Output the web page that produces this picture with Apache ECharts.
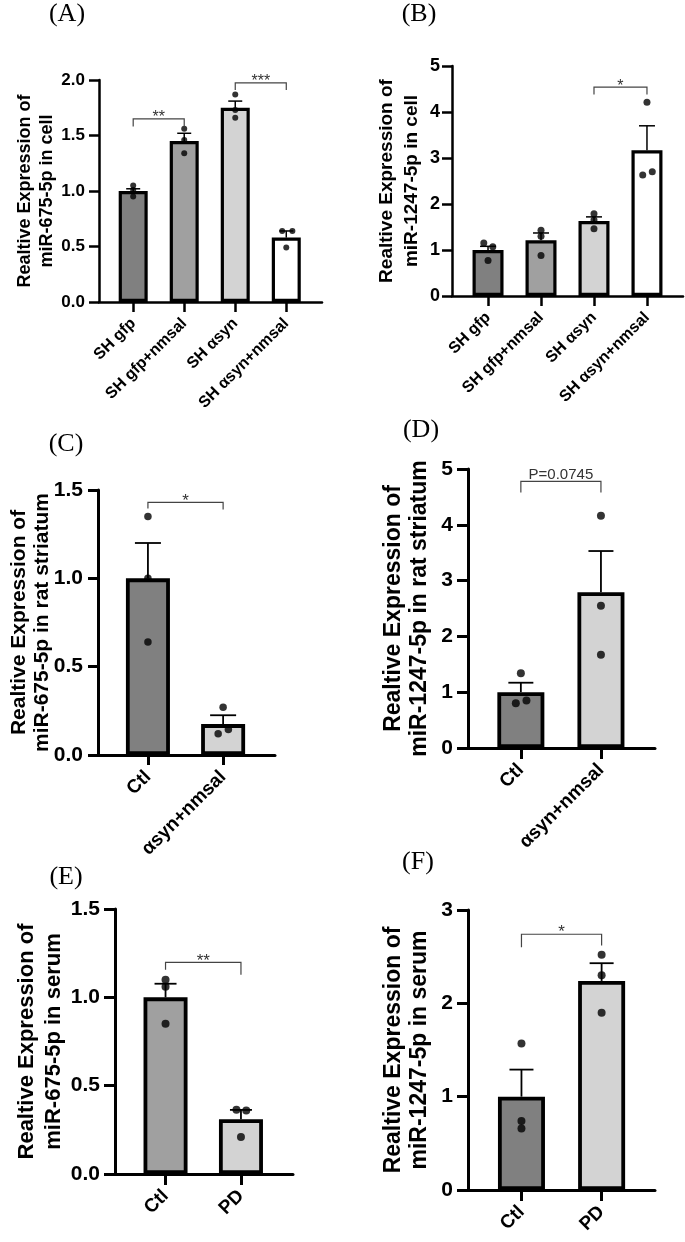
<!DOCTYPE html>
<html><head><meta charset="utf-8">
<script src="https://cdn.jsdelivr.net/npm/echarts@6/dist/echarts.min.js"></script>
<style>html,body{margin:0;padding:0;background:#fff}#c{width:685px;height:1242px}</style>
</head><body><div id="c"></div>
<script>
// ---------- DATA ----------
// (A) miR-675-5p in cell
const catsA = ['SH gfp', 'SH gfp+nmsal', 'SH αsyn', 'SH αsyn+nmsal'];
const meanA = [1.00, 1.45, 1.75, 0.58];
const semA  = [0.02, 0.07, 0.06, 0.06];
const dotsA = [[1.05, 1.01, 0.95], [1.56, 1.46, 1.34], [1.87, 1.73, 1.66], [0.64, 0.64, 0.49]];
const yTicksA = [0, 0.5, 1.0, 1.5, 2.0];
const sigA = [[0, 1, 1.65, 1.58, 1.58], [2, 3, 1.975, 1.91, 1.91]];
const sigTextA = ['**', '***'];

// (B) miR-1247-5p in cell
const catsB = ['SH gfp', 'SH gfp+nmsal', 'SH αsyn', 'SH αsyn+nmsal'];
const meanB = [1.00, 1.21, 1.63, 3.17];
const semB  = [0.08, 0.16, 0.09, 0.53];
const dotsB = [[1.15, 1.07, 0.77], [1.43, 1.30, 0.88], [1.79, 1.65, 1.46], [4.21, 2.63, 2.70]];
const yTicksB = [0, 1, 2, 3, 4, 5];
const sigB = [[2, 3, 4.54, 4.38, 4.38]];
const sigTextB = ['*'];

// (C) miR-675-5p in rat striatum
const catsC = ['Ctl', 'αsyn+nmsal'];
const meanC = [1.00, 0.175];
const semC  = [0.20, 0.05];
const dotsC = [[1.35, 1.00, 0.64], [0.27, 0.12, 0.145]];
const yTicksC = [0, 0.5, 1.0, 1.5];
const sigC = [[0, 1, 1.43, 1.395, 1.39]];
const sigTextC = ['*'];

// (D) miR-1247-5p in rat striatum
const catsD = ['Ctl', 'αsyn+nmsal'];
const meanD = [1.00, 2.79];
const semD  = [0.17, 0.74];
const dotsD = [[1.34, 0.80, 0.85], [4.16, 2.55, 1.67]];
const yTicksD = [0, 1, 2, 3, 4, 5];
const sigD = [[0, 1, 4.78, 4.58, 4.58]];
const sigTextD = ['P=0.0745'];

// (E) miR-675-5p in serum
const catsE = ['Ctl', 'PD'];
const meanE = [1.00, 0.31];
const semE  = [0.077, 0.053];
const dotsE = [[1.10, 1.06, 0.85], [0.363, 0.36, 0.21]];
const yTicksE = [0, 0.5, 1.0, 1.5];
const sigE = [[0, 1, 1.198, 1.156, 1.128]];
const sigTextE = ['**'];

// (F) miR-1247-5p in serum
const catsF = ['Ctl', 'PD'];
const meanF = [1.00, 2.24];
const semF  = [0.29, 0.19];
const dotsF = [[1.57, 0.74, 0.66], [2.52, 2.30, 1.90]];
const yTicksF = [0, 1, 2, 3];
const sigF = [[0, 1, 2.74, 2.60, 2.62]];
const sigTextF = ['*'];

// ---------- LAYOUT / STYLE ----------
const SANS = '"Liberation Sans", Arial, Helvetica, sans-serif';
const SERIF = '"Liberation Serif", "Times New Roman", serif';
const panels = [
  {letter:'(A)', lx:67, ly:14, cats:catsA, mean:meanA, sem:semA, dots:dotsA, ticks:yTicksA, dec:1, sig:sigA, sigText:sigTextA,
   name:'Realtive Expression of\nmiR-675-5p in cell',
   grid:{left:99, top:80, width:223, height:222}, xMin:-0.67, xMax:3.7,
   colors:['#808080','#a0a0a0','#d3d3d3','#ffffff'], barW:29, border:3.2, axisW:2.5, tickLen:10,
   yLab:17, yMargin:14, xLab:16, xMargin:19, nameSize:18, nameLH:22, nameGap:41, dot:6, cap:7, errW:1.5,
   jit:[[0,0,0],[0,0,0],[0,0,0],[-0.08,0.12,0]], sigSize:16},
  {letter:'(B)', lx:419, ly:14, cats:catsB, mean:meanB, sem:semB, dots:dotsB, ticks:yTicksB, dec:0, sig:sigB, sigText:sigTextB,
   name:'Realtive Expression of\nmiR-1247-5p in cell',
   grid:{left:452, top:66, width:231, height:230}, xMin:-0.68, xMax:3.68,
   colors:['#808080','#a0a0a0','#d3d3d3','#ffffff'], barW:31, border:3.2, axisW:2.5, tickLen:10,
   yLab:18, yMargin:12, xLab:16, xMargin:19, nameSize:19, nameLH:25, nameGap:28, dot:7, cap:8, errW:1.5,
   jit:[[-0.08,0.09,0],[0,0,0],[0,0,0],[0,-0.08,0.1]], sigSize:16},
  {letter:'(C)', lx:66, ly:444, cats:catsC, mean:meanC, sem:semC, dots:dotsC, ticks:yTicksC, dec:1, sig:sigC, sigText:sigTextC,
   name:'Realtive Expression of\nmiR-675-5p in rat striatum',
   grid:{left:98, top:490, width:177, height:265}, xMin:-0.664, xMax:1.69,
   colors:['#808080','#d3d3d3'], barW:44, border:3.8, axisW:3, tickLen:10,
   yLab:21, yMargin:15, xLab:19, xMargin:19, nameSize:21, nameLH:23, nameGap:44, dot:7.5, cap:13, errW:1.8,
   jit:[[0,0,0],[0,-0.066,0.07]], sigSize:17},
  {letter:'(D)', lx:421, ly:430, cats:catsD, mean:meanD, sem:semD, dots:dotsD, ticks:yTicksD, dec:0, sig:sigD, sigText:sigTextD,
   name:'Realtive Expression of\nmiR-1247-5p in rat striatum',
   grid:{left:468, top:469, width:187, height:279}, xMin:-0.66, xMax:1.675,
   colors:['#808080','#d3d3d3'], barW:47, border:3.8, axisW:3, tickLen:11,
   yLab:21, yMargin:15, xLab:19, xMargin:19, nameSize:23, nameLH:26.5, nameGap:35, dot:8, cap:12.5, errW:1.8,
   jit:[[0,-0.063,0.07],[0,0,0]], sigSize:15},
  {letter:'(E)', lx:66, ly:877, cats:catsE, mean:meanE, sem:semE, dots:dotsE, ticks:yTicksE, dec:1, sig:sigE, sigText:sigTextE,
   name:'Realtive Expression of\nmiR-675-5p in serum',
   grid:{left:115, top:909, width:178, height:265}, xMin:-0.67, xMax:1.69,
   colors:['#a0a0a0','#d3d3d3'], barW:44, border:3.8, axisW:3, tickLen:11,
   yLab:21, yMargin:15, xLab:19, xMargin:19, nameSize:22, nameLH:26.5, nameGap:48, dot:8, cap:11, errW:1.8,
   jit:[[0,0,0],[-0.06,0.07,0]], sigSize:17},
  {letter:'(F)', lx:418, ly:862, cats:catsF, mean:meanF, sem:semF, dots:dotsF, ticks:yTicksF, dec:0, sig:sigF, sigText:sigTextF,
   name:'Realtive Expression of\nmiR-1247-5p in serum',
   grid:{left:468, top:910, width:187, height:280}, xMin:-0.667, xMax:1.666,
   colors:['#808080','#d3d3d3'], barW:47, border:3.8, axisW:3, tickLen:11,
   yLab:21, yMargin:15, xLab:19, xMargin:19, nameSize:23, nameLH:26.5, nameGap:35, dot:8, cap:12, errW:1.8,
   jit:[[0,0,0],[0,0,0]], sigSize:17}
];

// ---------- BUILD ----------
const grid = [], xAxis = [], yAxis = [], series = [], graphic = [];
panels.forEach((p, k) => {
  grid.push(Object.assign({containLabel:false}, p.grid));
  const idx = p.cats.map((c, i) => i);
  xAxis.push({
    type:'value', gridIndex:k, min:p.xMin, max:p.xMax,
    splitLine:{show:false},
    axisLine:{show:true, onZero:false, lineStyle:{color:'#000', width:p.axisW}},
    axisTick:{show:true, customValues:idx, length:p.tickLen, lineStyle:{color:'#000', width:p.axisW}},
    axisLabel:{show:true, customValues:idx, rotate:45, margin:p.xMargin, interval:0,
      formatter:(v) => p.cats[Math.round(v)] || '',
      fontFamily:SANS, fontWeight:'bold', fontSize:p.xLab, color:'#000'}
  });
  const t = p.ticks;
  yAxis.push({
    type:'value', gridIndex:k, min:t[0], max:t[t.length-1], interval:t[1]-t[0],
    splitLine:{show:false},
    axisLine:{show:true, onZero:false, lineStyle:{color:'#000', width:p.axisW}},
    axisTick:{show:true, length:p.tickLen, lineStyle:{color:'#000', width:p.axisW}},
    axisLabel:{margin:p.yMargin, formatter:(v) => v.toFixed(p.dec),
      fontFamily:SANS, fontWeight:'bold', fontSize:p.yLab, color:'#000'},
    name:p.name, nameLocation:'middle', nameGap:p.nameGap, nameMoveOverlap:false,
    nameTextStyle:{fontFamily:SANS, fontWeight:'bold', fontSize:p.nameSize, lineHeight:p.nameLH, color:'#000'}
  });
  series.push({
    type:'bar', xAxisIndex:k, yAxisIndex:k, barWidth:p.barW, z:2, silent:true,
    data:p.mean.map((v, i) => ({value:[i, v], itemStyle:{color:p.colors[i]}})),
    itemStyle:{borderColor:'#000', borderWidth:p.border}
  });
  series.push({
    type:'custom', xAxisIndex:k, yAxisIndex:k, z:3, silent:true,
    data:p.mean.map((v, i) => [i, v, v + p.sem[i]]),
    renderItem:(params, api) => {
      const a = api.coord([api.value(0), api.value(1)]);
      const b = api.coord([api.value(0), api.value(2)]);
      const st = {stroke:'#000', lineWidth:p.errW};
      return {type:'group', children:[
        {type:'line', shape:{x1:a[0], y1:a[1], x2:b[0], y2:b[1]}, style:st},
        {type:'line', shape:{x1:b[0]-p.cap, y1:b[1], x2:b[0]+p.cap, y2:b[1]}, style:st}
      ]};
    }
  });
  const pts = [];
  p.dots.forEach((arr, i) => arr.forEach((v, j) => pts.push([i + p.jit[i][j], v])));
  series.push({
    type:'scatter', xAxisIndex:k, yAxisIndex:k, z:4, silent:true,
    symbol:'circle', symbolSize:p.dot, itemStyle:{color:'#000'}, data:pts
  });
  series.push({
    type:'custom', xAxisIndex:k, yAxisIndex:k, z:5, silent:true,
    data:p.sig,
    renderItem:(params, api) => {
      const L = api.coord([api.value(0), api.value(2)]);
      const R = api.coord([api.value(1), api.value(2)]);
      const dl = api.coord([api.value(0), api.value(3)]);
      const dr = api.coord([api.value(1), api.value(4)]);
      const txt = p.sigText[params.dataIndex];
      const isP = txt.charAt(0) === 'P';
      return {type:'group', children:[
        {type:'polyline', shape:{points:[dl, L, R, dr]}, style:{stroke:'#444', lineWidth:1.2, fill:null}},
        {type:'text', x:(L[0] + R[0]) / 2, y:L[1] + (isP ? 1 : 7),
         style:{text:txt, align:'center', verticalAlign:'bottom',
                font:'normal ' + p.sigSize + 'px ' + SANS, fill:'#333'}}
      ]};
    }
  });
  graphic.push({type:'text', x:p.lx, y:p.ly,
    style:{text:p.letter, align:'center', verticalAlign:'middle', font:'normal 26px ' + SERIF, fill:'#000'}});
});

const chart = echarts.init(document.getElementById('c'), null, {renderer:'canvas'});
chart.setOption({animation:false, backgroundColor:'#fff', grid, xAxis, yAxis, series, graphic});
</script></body></html>
